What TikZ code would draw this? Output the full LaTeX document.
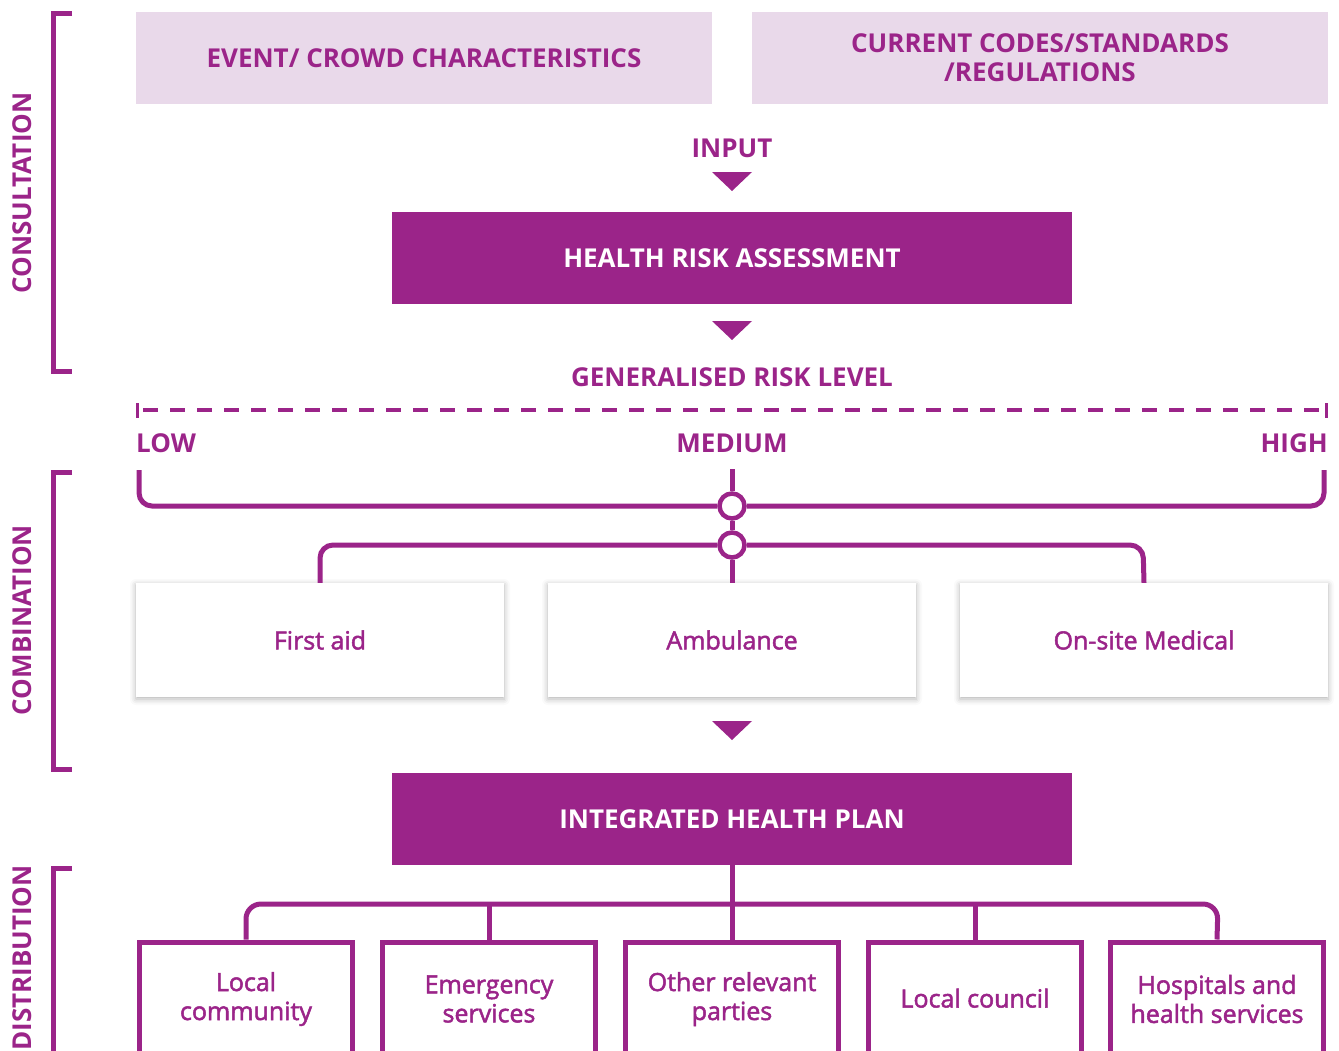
\documentclass[tikz,border=0pt]{standalone}
\usepackage{fontspec}
\setmainfont{Open Sans}
\newfontfamily\medfont{Open Sans}[FakeBold=2]
\usetikzlibrary{shadows,shadows.blur,calc}
\definecolor{pur}{HTML}{9B2489}
\definecolor{lpur}{HTML}{E9D9EA}
\tikzset{
  lbl/.style={text=pur,font=\fontsize{26}{29}\selectfont\bfseries},
  topbox/.style={fill=lpur,minimum width=576,minimum height=92,text=pur,font=\fontsize{26}{29}\selectfont\bfseries,align=center,inner sep=0},
  darkbox/.style={fill=pur,minimum width=680,minimum height=92,text=white,font=\fontsize{26}{29}\selectfont\bfseries,inner sep=0},
  svcbox/.style={fill=white,minimum width=368,minimum height=114,text=pur,font=\fontsize{25}{29}\medfont,inner sep=0,blur shadow={shadow xshift=0pt,shadow yshift=-2pt,shadow blur radius=6pt,shadow opacity=30}},
  outbox/.style={draw=pur,line width=5,fill=white,minimum width=213,minimum height=114,text=pur,font=\fontsize{25}{29}\medfont,align=center,inner sep=0},
  conn/.style={draw=pur,line width=5},
  tri/.style={fill=pur},
  side/.style={text=pur,font=\fontsize{26}{29}\selectfont\bfseries,rotate=90},
  brk/.style={draw=pur,line width=5}
}
\begin{document}
\begin{tikzpicture}[x=1pt,y=-1pt]
\useasboundingbox (0,0) rectangle (1339,1050);
% side labels and brackets
\node[side] (sc) at (22,193) {CONSULTATION};
\node[side] (sm) at (22,620) {COMBINATION};
\node[side] (sd) at (22,958) {DISTRIBUTION};
\draw[brk] (72,13.5) -- (53,13.5) -- (53,371.5) -- (72,371.5);
\draw[brk] (72,472.5) -- (53,472.5) -- (53,769.5) -- (72,769.5);
\draw[brk] (72,868.5) -- (53,868.5) -- (53,1055);
% top boxes
\node[topbox] (ev) at (424,58) {EVENT/ CROWD CHARACTERISTICS};
\node[topbox] (cc) at (1040,58) {CURRENT CODES/STANDARDS\\/REGULATIONS};
\node[lbl] (inp) at (732,148) {INPUT};
\fill[tri] (712,172) -- (752,172) -- (732,191) -- cycle;
\node[darkbox] (hra) at (732,258) {HEALTH RISK ASSESSMENT};
\fill[tri] (712,321) -- (752,321) -- (732,340) -- cycle;
\node[lbl] (grl) at (732,377) {GENERALISED RISK LEVEL};
% dashed scale
\coordinate (dl) at (137,410);
\coordinate (dr) at (1326,410);
\draw[pur,line width=4.5,dash pattern=on 15pt off 12pt,dash phase=-6pt] (dl) -- (dr);
\draw[pur,line width=3] (137,403) -- (137,418);
\draw[pur,line width=3] (1326,403) -- (1326,418);
\node[lbl,anchor=west,inner sep=0] (low) at (136,443) {LOW};
\node[lbl] (med) at (732,443) {MEDIUM};
\node[lbl,anchor=east,inner sep=0] (high) at (1328,443) {HIGH};
% bracket of levels
\node[circle,draw=pur,line width=4.5,fill=white,minimum size=25,inner sep=0] (c1) at (732,506) {};
\node[circle,draw=pur,line width=4.5,fill=white,minimum size=25,inner sep=0] (c2) at (732,545) {};
\draw[conn,rounded corners=13] (139,470) -- (139,506) -- (c1.west);
\draw[conn,rounded corners=13] (c1.east) -- (1324,506) -- (1324,470);
\draw[conn] (732,469) -- (c1.north);
\draw[conn] (c1.south) -- (c2.north);
% service boxes
\node[svcbox] (fa) at (320,640) {First aid};
\node[svcbox] (am) at (732,640) {Ambulance};
\node[svcbox] (os) at (1144,640) {On-site Medical};
\draw[conn,rounded corners=13] (c2.west) -- (320,545) -- (fa.north);
\draw[conn,rounded corners=13] (c2.east) -- (1143,545) -- (os.north);
\draw[conn] (c2.south) -- (am.north);
\fill[tri] (712,721) -- (752,721) -- (732,740) -- cycle;
\node[darkbox] (ihp) at (732,819) {INTEGRATED HEALTH PLAN};
% outputs
\node[outbox] (b1) at (246,999) {Local\\community};
\node[outbox] (b2) at (489,999) {Emergency\\services};
\node[outbox] (b3) at (732,999) {Other relevant\\parties};
\node[outbox] (b4) at (975,999) {\raisebox{2pt}{Local council}};
\node[outbox] (b5) at (1217,999) {Hospitals and\\health services};
\coordinate (hj) at (732,904);
\draw[conn] (ihp.south) -- (b3.north);
\draw[conn,rounded corners=15] (b1.north) -- (246,904) -- (1218,904) -- (b5.north);
\draw[conn] (489,904) -- (b2.north);
\draw[conn] (975,904) -- (b4.north);
\end{tikzpicture}
\end{document}
